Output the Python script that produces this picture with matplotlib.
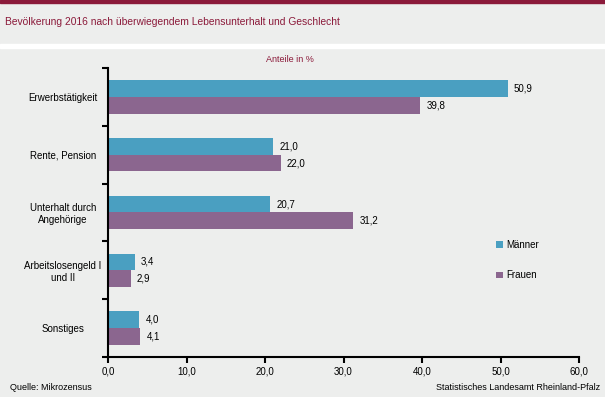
import matplotlib
matplotlib.use("Agg")
import matplotlib.pyplot as plt
from matplotlib.patches import Rectangle
import numpy as np

plt.rcParams['font.family'] = ['Liberation Sans', 'DejaVu Sans']

categories = ["Erwerbstätigkeit", "Rente, Pension", "Unterhalt durch\nAngehörige",
              "Arbeitslosengeld I\nund II", "Sonstiges"]
maenner = [50.9, 21.0, 20.7, 3.4, 4.0]
frauen = [39.8, 22.0, 31.2, 2.9, 4.1]
xticks = [0, 10, 20, 30, 40, 50, 60]
series_names = ["Männer", "Frauen"]

c_m = "#4a9fc1"
c_f = "#8b668f"
bg = "#edeeed"
red = "#8b1a3a"

fig = plt.figure(figsize=(6.05, 3.97), dpi=100, facecolor=bg)

# header decorations
fig.add_artist(Rectangle((0, 1 - 3/397), 1, 3/397, transform=fig.transFigure, color=red, zorder=0))
fig.add_artist(Rectangle((0, 1 - 48/397), 1, 4/397, transform=fig.transFigure, color="white", zorder=0))
fig.text(5/605, 1 - 22/397, "Bevölkerung 2016 nach überwiegendem Lebensunterhalt und Geschlecht",
         color=red, fontsize=7.4, va="center", ha="left")
fig.text(290/605, 1 - 60/397, "Anteile in %", color=red, fontsize=6.5, va="center", ha="center")

ax = fig.add_axes([108/605, 1 - 357/397, (579 - 108)/605, (357 - 68)/397])
ax.set_facecolor(bg)

n = len(categories)
y = np.arange(n)
h = 0.29
ax.barh(y - h/2, maenner, height=h, color=c_m, label=series_names[0])
ax.barh(y + h/2, frauen, height=h, color=c_f, label=series_names[1])

for yi, v in zip(y, maenner):
    ax.text(v + 0.8, yi - h/2, f"{v:.1f}".replace(".", ","), va="center", ha="left", fontsize=7)
for yi, v in zip(y, frauen):
    ax.text(v + 0.8, yi + h/2, f"{v:.1f}".replace(".", ","), va="center", ha="left", fontsize=7)

ax.set_xlim(0, 60)
ax.set_ylim(n - 0.5, -0.5)
ax.set_xticks(xticks)
ax.set_xticklabels([f"{t:.1f}".replace(".", ",") for t in xticks], fontsize=7)
ax.set_yticks(y)
ax.set_yticklabels(categories, fontsize=7, ha="center", multialignment="center")
ax.tick_params(axis="y", which="major", length=0, pad=32.5)
ax.set_yticks(np.arange(n + 1) - 0.5, minor=True)
ax.tick_params(axis="y", which="minor", length=4, width=1.5, direction="out")
ax.tick_params(axis="x", length=4, width=1.5, direction="out", pad=3)
for s in ["top", "right"]:
    ax.spines[s].set_visible(False)
for s in ["left", "bottom"]:
    ax.spines[s].set_linewidth(1.5)

leg = ax.legend(loc="upper left", bbox_to_anchor=((492 - 108)/471, (357 - 236)/289),
                frameon=False, fontsize=7, handlelength=0.7, handleheight=0.7,
                labelspacing=2.1, handletextpad=0.4, borderaxespad=0)

fig.text(10/605, 1 - 387/397, "Quelle: Mikrozensus", fontsize=6.5, va="center", ha="left")
fig.text(600/605, 1 - 387/397, "Statistisches Landesamt Rheinland-Pfalz", fontsize=6.5, va="center", ha="right")

fig.savefig("out.png", dpi=100, facecolor=bg)
